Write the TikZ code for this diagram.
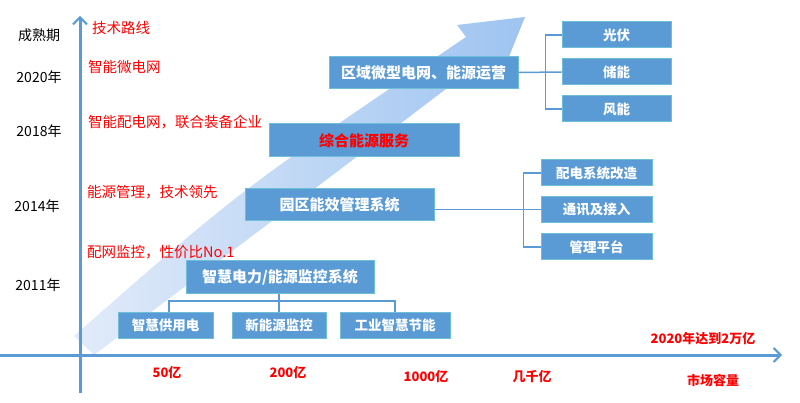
\documentclass[tikz,border=0pt]{standalone}
\usepackage{fontspec}
\setmainfont{Noto Sans CJK SC}
\usetikzlibrary{arrows.meta}
\definecolor{boxblue}{RGB}{91,155,213}
\definecolor{boxedge}{RGB}{110,190,215}
\definecolor{axisblue}{RGB}{91,155,213}
\definecolor{bandlight}{RGB}{226,235,250}
\definecolor{banddark}{RGB}{158,196,240}
\definecolor{redtxt}{RGB}{255,0,0}
\newcommand{\fs}[1]{\fontsize{#1}{#1}\selectfont}
\tikzset{
  bigbox/.style={fill=boxblue, draw=boxedge, line width=1pt, text=white, font=\bfseries\fs{15}, inner sep=0pt, minimum width=189pt, minimum height=32pt},
  smallbox/.style={fill=boxblue, draw=boxedge, line width=1pt, text=white, font=\bfseries\fs{13.5}, inner sep=0pt, minimum width=110pt, minimum height=26pt},
  conn/.style={draw=axisblue, line width=1.5pt},
  axisline/.style={draw=axisblue, line width=3pt},
  yearlbl/.style={text=black, font=\fs{14}, inner sep=0pt},
  techlbl/.style={text=redtxt, font=\fs{14.5}, inner sep=0pt, anchor=west},
  marketlbl/.style={text=redtxt, font=\bfseries\fs{13}, inner sep=0pt}
}
\begin{document}
\begin{tikzpicture}[x=1pt,y=-1pt]
\useasboundingbox (0,0) rectangle (800,403);
% big gradient arrow
\shade[left color=bandlight, right color=banddark]
  (74,336) .. controls (240,190) .. (466,37) -- (457,25) -- (525,17) -- (502,74) -- (484,60)
  .. controls (300,200) .. (94,355) -- cycle;
% axes
\draw[axisline, -{Straight Barb[length=7pt,width=14pt,line width=2pt]}] (80,393) -- (80,16);
\draw[axisline, -{Straight Barb[length=7pt,width=14pt,line width=2pt]}] (0,355) -- (782,355);
% left year labels
\node[yearlbl] (l0) at (39,35) {成熟期};
\node[yearlbl] (l1) at (39,77) {2020年};
\node[yearlbl] (l2) at (39,131) {2018年};
\node[yearlbl] (l3) at (37,206) {2014年};
\node[yearlbl] (l4) at (38,285) {2011年};
% technology route labels
\node[techlbl] (t0) at (92,28) {技术路线};
\node[techlbl] (t1) at (88,67) {智能微电网};
\node[techlbl] (t2) at (88,122) {智能配电网，联合装备企业};
\node[techlbl] (t3) at (87,192) {能源管理，技术领先};
\node[techlbl] (t4) at (87,252) {配网监控，性价比No.1};
% boxes
\node[bigbox] (quyu) at (423.5,72.5) {区域微型电网、能源运营};
\node[smallbox, minimum width=109pt] (gf) at (616.5,35) {光伏};
\node[smallbox, minimum width=109pt] (cn) at (616.5,72) {储能};
\node[smallbox, minimum width=109pt] (fn) at (616.5,109) {风能};
\node[bigbox, minimum width=190pt, minimum height=33pt, text=redtxt] (zh) at (364,140.5) {综合能源服务};
\node[bigbox] (yq) at (339.5,205) {园区能效管理系统};
\node[smallbox, minimum width=111pt] (pd) at (596.5,173) {配电系统改造};
\node[smallbox, minimum width=111pt] (tx) at (596.5,209.5) {通讯及接入};
\node[smallbox, minimum width=111pt] (gl) at (596.5,247) {管理平台};
\node[bigbox, minimum width=188pt] (zhdl) at (280,277) {智慧电力/能源监控系统};
\node[smallbox, minimum width=95pt] (b1) at (165.5,325) {智慧供用电};
\node[smallbox, minimum width=94pt] (b2) at (279,325) {新能源监控};
\node[smallbox, minimum width=110pt] (b3) at (395,325) {工业智慧节能};
% connectors
\draw[conn] (quyu.east) -- (cn.west);
\draw[conn] (gf.west) -- ++(-16,0) |- (fn.west);
\draw[conn] (yq.east |- tx.west) -- (tx.west);
\draw[conn] (pd.west) -- ++(-17,0) |- (gl.west);
\coordinate (jn) at (279,301);
\draw[conn] (zhdl.south -| jn) -- (jn);
\draw[conn] (b1.north -| 169,0) |- (jn) -| (b3.north);
\draw[conn] (jn) -- (b2.north);
% market labels
\node[marketlbl] (m1) at (167,373) {50亿};
\node[marketlbl] (m2) at (288,373) {200亿};
\node[marketlbl] (m3) at (426,377) {1000亿};
\node[marketlbl] (m4) at (532,377) {几千亿};
\node[marketlbl] (m5) at (713,380) {市场容量};
\node[marketlbl] (m6) at (703,339) {2020年达到2万亿};
\end{tikzpicture}
\end{document}
